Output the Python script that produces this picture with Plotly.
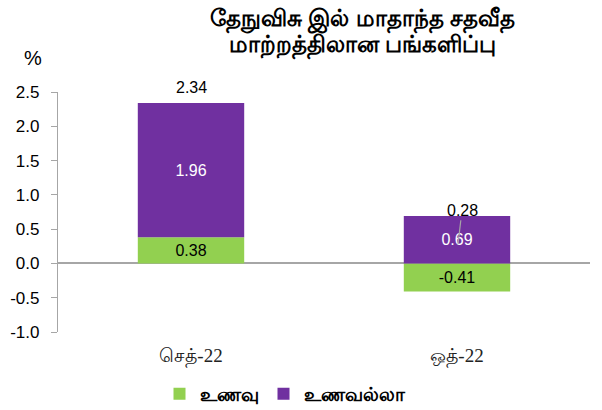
import plotly.graph_objects as go

categories = ["செத்-22", "ஒத்-22"]
food = [0.38, -0.41]
nonfood = [1.96, 0.69]
series_names = ["உணவு", "உணவல்லா"]
title_lines = ["தேநுவிசு இல் மாதாந்த சதவீத", "மாற்றத்திலான பங்களிப்பு"]
tick_vals = [-1.0, -0.5, 0.0, 0.5, 1.0, 1.5, 2.0, 2.5]

GREEN = "#92D050"
PURPLE = "#7030A0"
FONT = "Liberation Sans, Arial, sans-serif"

T, B = 92, 78
PH = 410 - T - B

fig = go.Figure()
fig.add_trace(go.Bar(
    x=categories, y=food, name="<b>" + series_names[0] + "</b>",
    marker=dict(color=GREEN, line=dict(width=0)),
    texttemplate="%{y:.2f}", textposition="inside", insidetextanchor="middle",
    textfont=dict(color="black", size=16, family=FONT),
))
fig.add_trace(go.Bar(
    x=categories, y=nonfood, name="<b>" + series_names[1] + "</b>",
    marker=dict(color=PURPLE, line=dict(width=0)),
    texttemplate="%{y:.2f}", textposition="inside", insidetextanchor="middle",
    textfont=dict(color="white", size=16, family=FONT),
))

totals = [round(f + n, 2) for f, n in zip(food, nonfood)]
for i, (cat, tot) in enumerate(zip(categories, totals)):
    top = max(nonfood[i], 0) + max(food[i], 0)
    if tot >= top - 1e-9:
        fig.add_annotation(x=cat, y=top, text=f"{tot:.2f}", showarrow=False,
                           yanchor="bottom", yshift=5,
                           font=dict(size=16, color="black", family=FONT))
    else:
        fig.add_annotation(x=cat, y=tot, text=f"{tot:.2f}", showarrow=True,
                           arrowhead=0, arrowwidth=1.2, arrowcolor="#A6A6A6",
                           ax=4, ay=-34, xshift=1,
                           font=dict(size=16, color="black", family=FONT))

fig.add_annotation(x=(33 - 58) / 532, xref="paper", y=(410 - B - 58) / PH, yref="paper",
                   text="%", showarrow=False, xanchor="center", yanchor="middle",
                   font=dict(size=20, color="black", family=FONT))

title_y = [19, 45]
for line, py in zip(title_lines, title_y):
    fig.add_annotation(x=(362 - 58) / 532, xref="paper", y=(410 - B - py) / PH, yref="paper",
                       text="<b>" + line + "</b>", showarrow=False,
                       xanchor="center", yanchor="middle",
                       font=dict(size=23, color="black", family=FONT))

fig.update_layout(
    barmode="relative",
    bargap=0.6,
    width=602, height=410,
    margin=dict(l=58, r=12, t=T, b=B, autoexpand=False),
    paper_bgcolor="white", plot_bgcolor="white",
    showlegend=True,
    legend=dict(orientation="h", x=(285 - 58) / 532, xanchor="center",
                y=(410 - B - 394) / PH, yanchor="middle",
                font=dict(size=19, color="black", family=FONT),
                itemsizing="constant", traceorder="normal", itemwidth=30),
    xaxis=dict(showline=False, ticks="outside", ticklen=6, tickcolor="rgba(0,0,0,0)",
               showgrid=False, automargin=False,
               tickfont=dict(size=19, color="#222", family="Liberation Serif, serif")),
    yaxis=dict(range=[-1.0, 2.5], tickvals=tick_vals, ticktext=[f"{v:.1f}" for v in tick_vals],
               showline=True, linecolor="#A6A6A6", linewidth=1.2,
               ticks="outside", ticklen=6, tickcolor="#A6A6A6", automargin=False,
               ticklabelstandoff=8,
               showgrid=False, zeroline=True, zerolinecolor="#A6A6A6", zerolinewidth=1.5,
               tickfont=dict(size=17, color="black", family=FONT)),
)

fig.write_html("out.html", config={"displayModeBar": False},
               post_script="document.body.style.margin='0';document.body.style.padding='0';")
